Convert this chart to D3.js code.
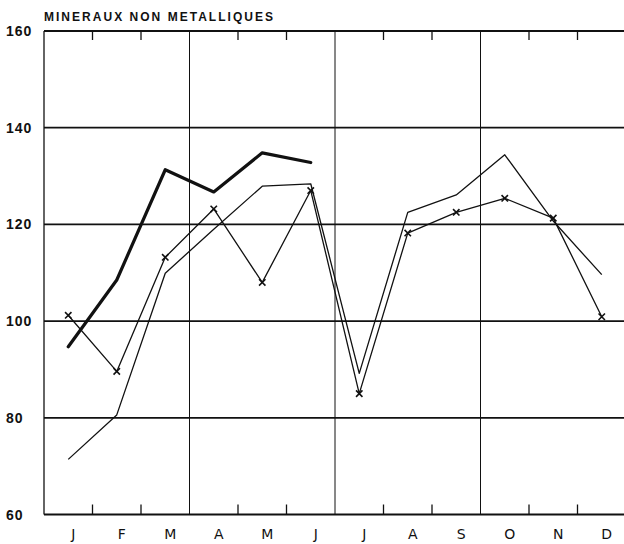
<!DOCTYPE html>
<html><head><meta charset="utf-8">
<script src="https://cdn.jsdelivr.net/npm/d3@7"></script>
<style>html,body{margin:0;padding:0;background:#fff;}svg{display:block;}</style>
</head><body>
<svg id="c" width="624" height="544"></svg>
<script>
const title = "MINERAUX NON METALLIQUES";
const months = ["J","F","M","A","M","J","J","A","S","O","N","D"];
const yTicks = [60, 80, 100, 120, 140, 160];
// thick line (current year, Jan-Jun)
const current = [94.7, 108.5, 131.3, 126.7, 134.8, 132.8];
// line with x markers
const crossed = [101.2, 89.6, 113.2, 123.2, 108.0, 127.0, 85.0, 118.2, 122.5, 125.4, 121.3, 100.9];
// thin line
const thin = [71.4, 80.6, 109.9, 119.0, 127.9, 128.4, 89.2, 122.5, 126.1, 134.4, 120.7, 109.6];

const svg = d3.select("#c");
const W = 624;
const x = d3.scaleBand().domain(d3.range(12)).range([44, 626]).paddingInner(0).paddingOuter(0);
const y = d3.scaleLinear().domain([60, 160]).range([514.5, 31]);
const cx = i => x(i) + x.bandwidth() / 2;
const ink = "#111";

// horizontal grid lines
svg.append("g").selectAll("line").data(yTicks).join("line")
  .attr("x1", x(0)).attr("x2", W)
  .attr("y1", d => y(d)).attr("y2", d => y(d))
  .attr("stroke", ink).attr("stroke-width", d => (d === 60 || d === 160) ? 2 : 1.8);

// left axis line
svg.append("line").attr("x1", x(0)).attr("x2", x(0))
  .attr("y1", y(160)).attr("y2", y(60)).attr("stroke", ink).attr("stroke-width", 1.3);

// quarter vertical lines and month ticks
const bounds = d3.range(1, 12);
svg.append("g").selectAll("line").data(bounds.filter(b => b % 3 === 0)).join("line")
  .attr("x1", b => x(b)).attr("x2", b => x(b))
  .attr("y1", y(160)).attr("y2", y(60)).attr("stroke", ink).attr("stroke-width", 1);
const minor = bounds.filter(b => b % 3 !== 0);
svg.append("g").selectAll("line").data(minor).join("line")
  .attr("x1", b => x(b)).attr("x2", b => x(b))
  .attr("y1", y(160)).attr("y2", y(160) + 9).attr("stroke", ink).attr("stroke-width", 1.3);
svg.append("g").selectAll("line").data(minor).join("line")
  .attr("x1", b => x(b)).attr("x2", b => x(b))
  .attr("y1", y(60)).attr("y2", y(60) - 10).attr("stroke", ink).attr("stroke-width", 1.3);

// y labels
svg.append("g").selectAll("text").data(yTicks).join("text")
  .attr("x", 6).attr("y", d => y(d)).attr("dy", "0.36em")
  .attr("font-family", "Liberation Sans, Arial, sans-serif").attr("font-weight", "bold")
  .attr("font-size", 14).attr("letter-spacing", 1).attr("fill", ink)
  .text(d => d);

// month labels
svg.append("g").selectAll("text").data(months).join("text")
  .attr("x", (d, i) => cx(i) + 5).attr("y", 539)
  .attr("text-anchor", "middle")
  .attr("font-family", "DejaVu Sans, sans-serif").attr("font-size", 14).attr("fill", ink)
  .text(d => d);

// title
svg.append("text").attr("x", 44).attr("y", 21)
  .attr("font-family", "Liberation Sans, Arial, sans-serif").attr("font-weight", "bold")
  .attr("font-size", 12).attr("fill", ink)
  .attr("textLength", 229).attr("lengthAdjust", "spacing")
  .text(title);

const line = d3.line().x((d, i) => cx(i)).y(d => y(d));

svg.append("path").datum(thin).attr("d", line)
  .attr("fill", "none").attr("stroke", ink).attr("stroke-width", 1.3).attr("stroke-linejoin", "round");
svg.append("path").datum(crossed).attr("d", line)
  .attr("fill", "none").attr("stroke", ink).attr("stroke-width", 1.3).attr("stroke-linejoin", "round");
svg.append("path").datum(current).attr("d", line)
  .attr("fill", "none").attr("stroke", ink).attr("stroke-width", 3.2).attr("stroke-linejoin", "round").attr("stroke-linecap", "round");

// x markers
const s = 3.2;
svg.append("g").selectAll("path").data(crossed).join("path")
  .attr("d", (d, i) => `M${cx(i)-s},${y(d)-s}L${cx(i)+s},${y(d)+s}M${cx(i)-s},${y(d)+s}L${cx(i)+s},${y(d)-s}`)
  .attr("stroke", ink).attr("stroke-width", 1.6).attr("fill", "none");
</script>
</body></html>
